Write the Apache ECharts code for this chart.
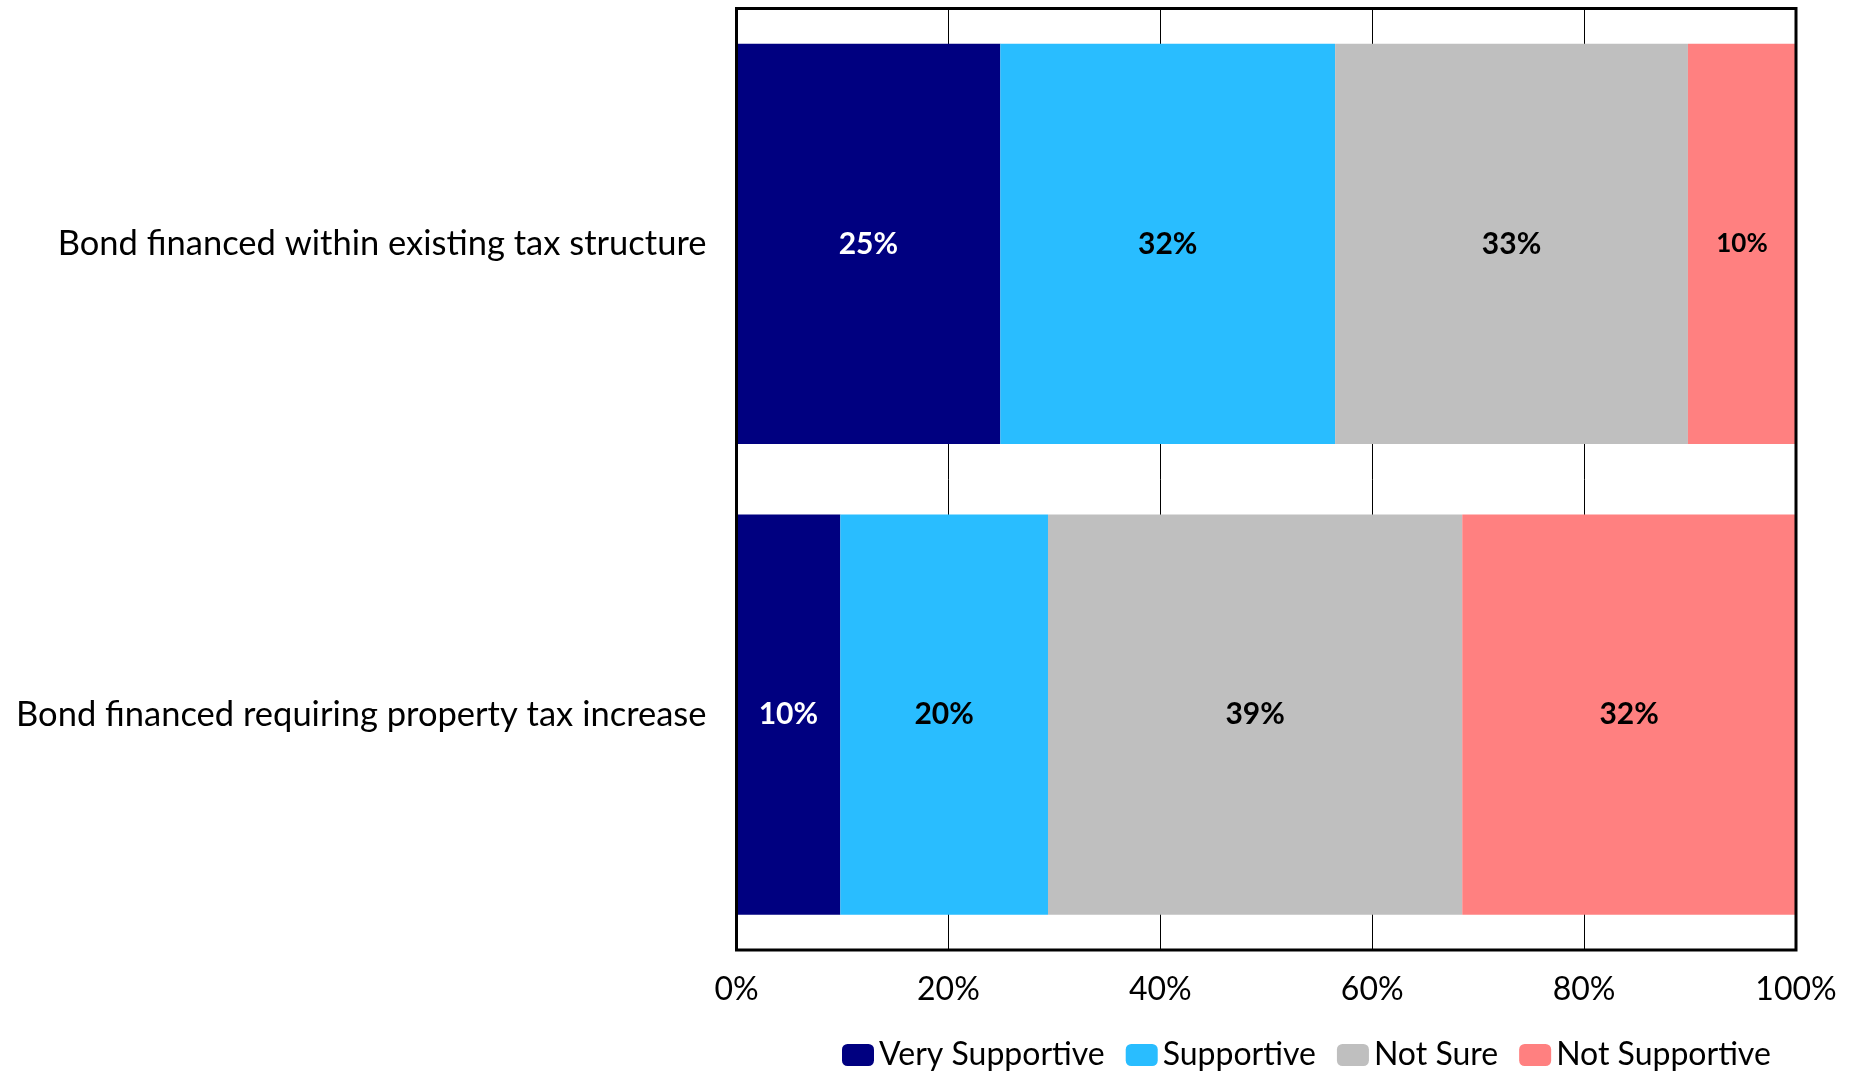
<!DOCTYPE html>
<html>
<head>
<meta charset="utf-8">
<title>Support for bond financing options</title>
<script src="https://cdn.jsdelivr.net/npm/echarts@6/dist/echarts.min.js"></script>
<style>
  html, body { margin: 0; padding: 0; background: #fff; }
  #chart { width: 1864px; height: 1071px; }
</style>
</head>
<body>
<div id="chart"></div>
<script>
// Survey options (top to bottom)
const categories = [
  'Bond financed within existing tax structure',
  'Bond financed requiring property tax increase'
];

// Share of respondents per response, in percent
const verySupportive = [24.9, 9.8];
const supportive     = [31.6, 19.6];
const notSure        = [33.3, 39.1];
const notSupportive  = [10.2, 31.5];

const seriesNames = ['Very Supportive', 'Supportive', 'Not Sure', 'Not Supportive'];
const axisTicks = [0, 20, 40, 60, 80, 100];

const FONT = 'Lato, "Open Sans", sans-serif';

const palette = ['#000080', '#29BDFF', '#BFBFBF', '#FF8080'];
const labelColors = ['#ffffff', '#000000', '#000000', '#000000'];

function makeSeries(name, values, idx) {
  return {
    name: name,
    type: 'bar',
    stack: 'total',
    barWidth: '85%',
    itemStyle: { color: palette[idx] },
    label: {
      show: true,
      position: 'inside',
      color: labelColors[idx],
      fontFamily: FONT,
      fontWeight: 'bold',
      fontSize: 30,
      // narrow segments get a slightly smaller label
      rich: {},
      formatter: p => Math.round(p.value) + '%'
    },
    emphasis: { disabled: true },
    data: values.map(v => ({
      value: v,
      label: v < 12 && idx === 3 ? { fontSize: 26 } : undefined
    }))
  };
}

const chart = echarts.init(document.getElementById('chart'), null, { renderer: 'canvas' });

chart.setOption({
  animation: false,
  backgroundColor: '#ffffff',
  grid: {
    left: 736.5,
    top: 8.5,
    right: 68,
    bottom: 121,
    show: true,
    borderColor: '#000000',
    borderWidth: 3,
    backgroundColor: 'transparent',
    z: 10
  },
  legend: {
    data: seriesNames,
    left: 842,
    top: 1039,
    padding: 0,
    itemWidth: 32,
    itemHeight: 22,
    itemGap: 21,
    selectedMode: false,
    textStyle: { fontFamily: FONT, fontSize: 32, color: '#000000' }
  },
  xAxis: {
    type: 'value',
    min: axisTicks[0],
    max: axisTicks[axisTicks.length - 1],
    interval: axisTicks[1] - axisTicks[0],
    axisLine: { show: false },
    axisTick: { show: false },
    splitLine: { show: true, lineStyle: { color: '#000000', width: 1 } },
    axisLabel: {
      fontFamily: FONT,
      fontSize: 32,
      color: '#000000',
      margin: 24,
      formatter: '{value}%'
    }
  },
  yAxis: {
    type: 'category',
    inverse: true,
    data: categories,
    axisLine: { show: false },
    axisTick: { show: false },
    splitLine: { show: false },
    axisLabel: {
      fontFamily: FONT,
      fontSize: 34.5,
      color: '#000000',
      margin: 30,
      padding: [4, 0, 0, 0]
    }
  },
  series: [
    makeSeries(seriesNames[0], verySupportive, 0),
    makeSeries(seriesNames[1], supportive, 1),
    makeSeries(seriesNames[2], notSure, 2),
    makeSeries(seriesNames[3], notSupportive, 3)
  ]
});
</script>
</body>
</html>
